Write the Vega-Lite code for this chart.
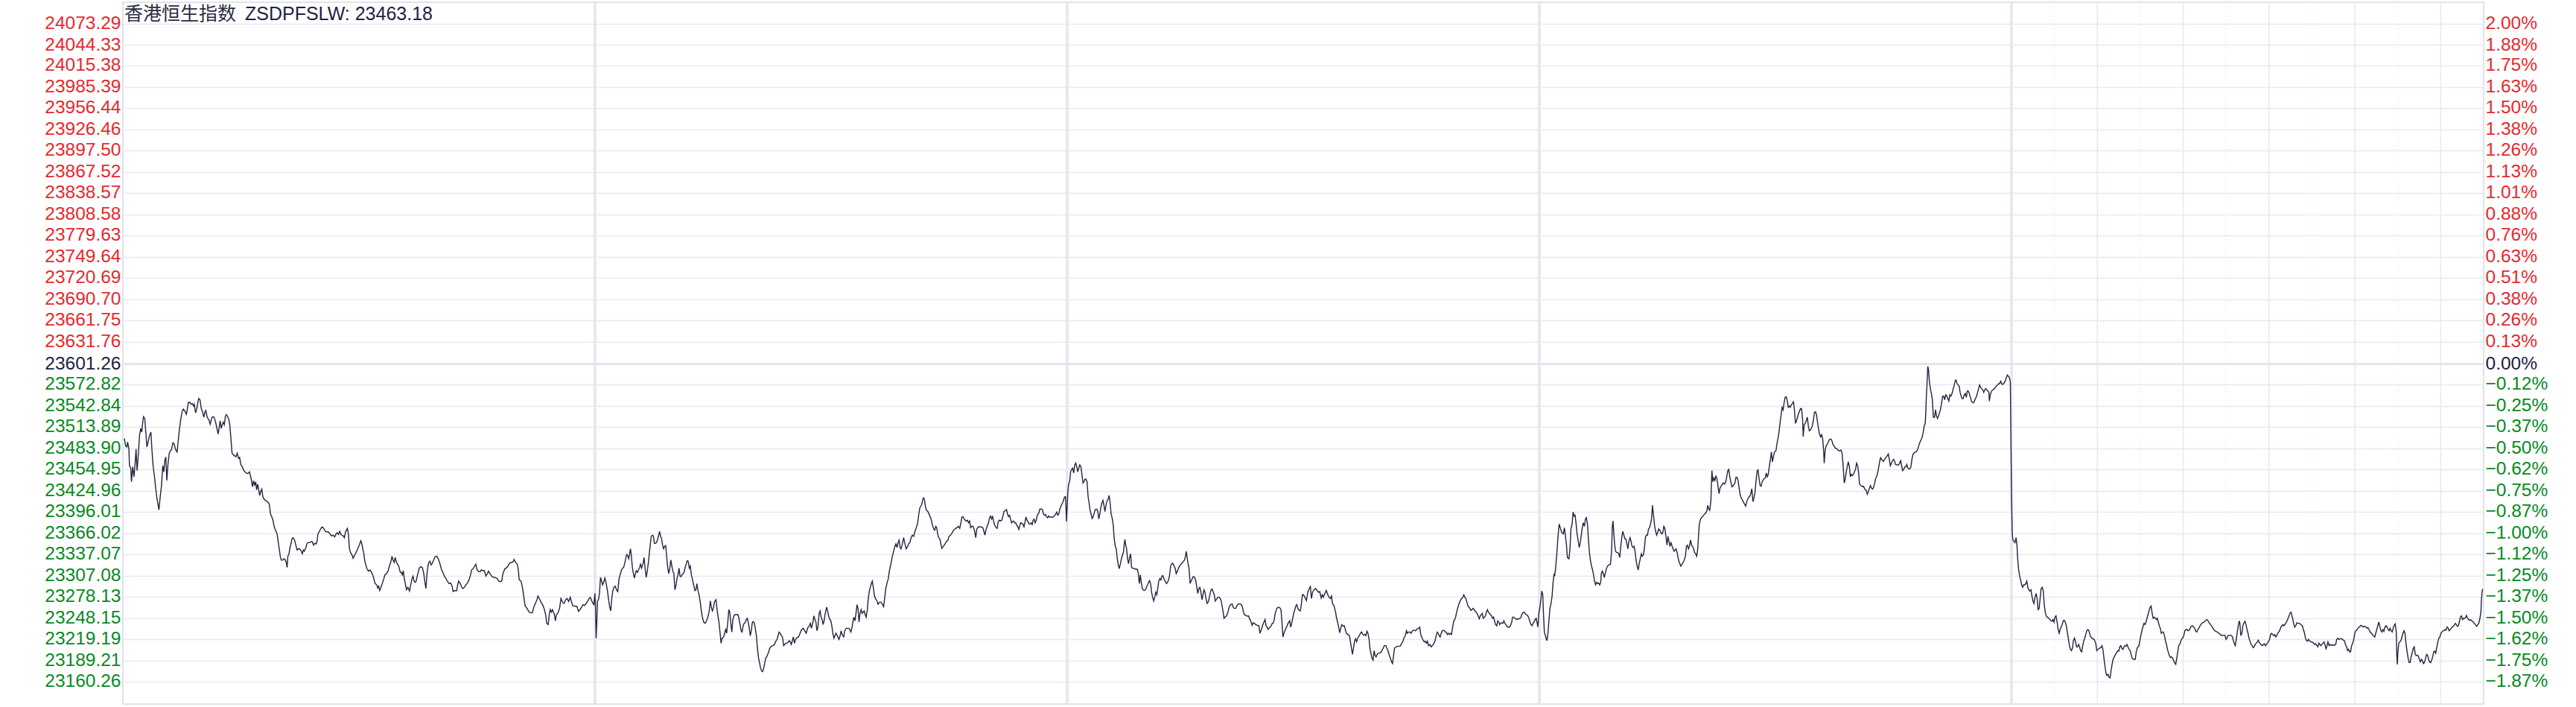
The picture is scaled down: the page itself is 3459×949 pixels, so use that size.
{
"$schema":"https://vega.github.io/schema/vega-lite/v6.json",
"width":3170,"height":942,
"autosize":{"type":"none"},
"padding":{"left":165,"top":3,"right":124,"bottom":4},
"background":"white",
"config":{"view":{"stroke":"#e2e2ee","strokeWidth":2}},
"datasets":{"idx":[
{"t":1.0,"v":23497.9},{"t":1.9,"v":23487.6},{"t":2.8,"v":23485.9},{"t":3.3,"v":23492.8},{"t":4.2,"v":23484.1},{"t":4.6,"v":23460.0},{"t":5.5,"v":23456.6},{"t":6.0,"v":23437.6},{"t":6.9,"v":23458.3},{"t":7.8,"v":23444.5},{"t":8.5,"v":23461.7},{"t":9.2,"v":23483.1},{"t":9.9,"v":23453.1},{"t":10.8,"v":23475.5},{"t":11.7,"v":23503.1},{"t":12.5,"v":23511.7},{"t":13.2,"v":23506.6},{"t":13.9,"v":23520.3},{"t":14.4,"v":23527.9},{"t":15.3,"v":23525.5},{"t":16.0,"v":23506.6},{"t":16.8,"v":23485.9},{"t":17.5,"v":23492.1},{"t":18.6,"v":23501.4},{"t":19.6,"v":23506.6},{"t":20.3,"v":23482.4},{"t":21.1,"v":23460.0},{"t":22.1,"v":23444.5},{"t":23.0,"v":23427.3},{"t":23.9,"v":23413.5},{"t":25.2,"v":23398.6},{"t":26.1,"v":23416.9},{"t":27.0,"v":23432.4},{"t":27.9,"v":23460.0},{"t":28.6,"v":23451.4},{"t":29.3,"v":23466.9},{"t":30.0,"v":23472.1},{"t":30.7,"v":23439.3},{"t":31.5,"v":23461.7},{"t":32.4,"v":23477.2},{"t":33.3,"v":23480.7},{"t":34.0,"v":23482.4},{"t":35.0,"v":23491.7},{"t":35.9,"v":23490.0},{"t":36.8,"v":23482.4},{"t":37.9,"v":23479.0},{"t":38.6,"v":23492.8},{"t":39.5,"v":23510.0},{"t":40.4,"v":23523.8},{"t":41.3,"v":23534.1},{"t":42.2,"v":23538.6},{"t":43.3,"v":23535.9},{"t":44.4,"v":23531.4},{"t":45.1,"v":23539.3},{"t":45.8,"v":23547.9},{"t":46.9,"v":23547.9},{"t":47.6,"v":23545.2},{"t":48.5,"v":23546.2},{"t":49.4,"v":23542.8},{"t":49.9,"v":23545.2},{"t":50.8,"v":23533.4},{"t":51.5,"v":23537.6},{"t":52.3,"v":23546.2},{"t":53.0,"v":23553.1},{"t":53.9,"v":23551.4},{"t":54.8,"v":23539.3},{"t":55.5,"v":23535.9},{"t":56.6,"v":23527.2},{"t":57.3,"v":23534.1},{"t":58.0,"v":23536.5},{"t":58.7,"v":23529.0},{"t":59.4,"v":23525.5},{"t":60.1,"v":23523.8},{"t":61.0,"v":23517.6},{"t":61.6,"v":23522.1},{"t":62.3,"v":23527.2},{"t":63.4,"v":23527.9},{"t":64.1,"v":23525.5},{"t":65.2,"v":23516.9},{"t":65.9,"v":23510.0},{"t":66.6,"v":23503.8},{"t":67.3,"v":23513.4},{"t":68.0,"v":23522.1},{"t":68.7,"v":23511.7},{"t":69.5,"v":23516.9},{"t":70.2,"v":23520.3},{"t":70.9,"v":23516.9},{"t":71.6,"v":23527.9},{"t":72.3,"v":23530.7},{"t":73.0,"v":23529.0},{"t":74.1,"v":23523.8},{"t":74.8,"v":23515.2},{"t":75.5,"v":23497.9},{"t":76.3,"v":23477.2},{"t":77.3,"v":23474.8},{"t":78.1,"v":23473.8},{"t":79.0,"v":23472.1},{"t":79.9,"v":23477.2},{"t":80.8,"v":23470.4},{"t":81.6,"v":23471.4},{"t":82.4,"v":23461.7},{"t":83.4,"v":23458.3},{"t":84.3,"v":23454.2},{"t":85.2,"v":23451.4},{"t":86.3,"v":23449.7},{"t":87.4,"v":23449.0},{"t":88.5,"v":23451.4},{"t":89.2,"v":23446.2},{"t":89.9,"v":23439.3},{"t":90.6,"v":23430.7},{"t":91.3,"v":23439.3},{"t":92.0,"v":23432.4},{"t":92.8,"v":23437.6},{"t":93.5,"v":23426.2},{"t":94.2,"v":23434.2},{"t":94.9,"v":23427.3},{"t":95.6,"v":23418.6},{"t":96.3,"v":23423.8},{"t":97.1,"v":23427.3},{"t":97.8,"v":23416.9},{"t":98.7,"v":23413.5},{"t":99.6,"v":23411.8},{"t":101.0,"v":23410.0},{"t":102.3,"v":23406.6},{"t":103.2,"v":23392.8},{"t":104.0,"v":23389.3},{"t":104.9,"v":23384.2},{"t":105.7,"v":23375.6},{"t":106.7,"v":23370.4},{"t":107.8,"v":23365.2},{"t":108.5,"v":23354.9},{"t":109.3,"v":23344.5},{"t":110.0,"v":23334.2},{"t":110.7,"v":23329.0},{"t":111.6,"v":23328.7},{"t":112.5,"v":23330.7},{"t":113.6,"v":23329.0},{"t":114.3,"v":23324.5},{"t":114.8,"v":23318.7},{"t":115.3,"v":23334.2},{"t":116.1,"v":23337.6},{"t":116.8,"v":23346.3},{"t":117.5,"v":23351.4},{"t":118.2,"v":23358.3},{"t":118.9,"v":23360.0},{"t":120.0,"v":23356.6},{"t":121.1,"v":23348.0},{"t":121.8,"v":23342.8},{"t":122.5,"v":23344.5},{"t":123.6,"v":23344.5},{"t":124.7,"v":23341.1},{"t":125.4,"v":23337.6},{"t":126.1,"v":23342.8},{"t":126.8,"v":23341.1},{"t":127.9,"v":23346.3},{"t":128.6,"v":23351.4},{"t":129.3,"v":23353.1},{"t":130.4,"v":23353.1},{"t":131.5,"v":23354.2},{"t":132.2,"v":23354.9},{"t":133.3,"v":23349.7},{"t":134.0,"v":23352.1},{"t":135.1,"v":23351.4},{"t":135.8,"v":23355.6},{"t":136.3,"v":23365.2},{"t":137.2,"v":23368.0},{"t":138.3,"v":23372.8},{"t":139.4,"v":23374.9},{"t":140.4,"v":23372.8},{"t":141.5,"v":23368.7},{"t":142.6,"v":23368.0},{"t":143.7,"v":23368.0},{"t":144.7,"v":23365.2},{"t":145.8,"v":23362.5},{"t":146.9,"v":23363.5},{"t":148.0,"v":23361.1},{"t":149.0,"v":23365.2},{"t":149.8,"v":23366.9},{"t":150.7,"v":23364.5},{"t":151.6,"v":23368.7},{"t":152.3,"v":23364.5},{"t":153.3,"v":23363.1},{"t":154.1,"v":23362.5},{"t":154.8,"v":23360.0},{"t":155.5,"v":23366.9},{"t":156.2,"v":23370.4},{"t":156.9,"v":23372.8},{"t":157.6,"v":23365.2},{"t":158.4,"v":23344.5},{"t":159.1,"v":23339.4},{"t":160.2,"v":23335.9},{"t":160.9,"v":23331.4},{"t":162.0,"v":23335.9},{"t":163.0,"v":23339.4},{"t":164.1,"v":23344.5},{"t":165.2,"v":23349.7},{"t":166.3,"v":23355.6},{"t":167.0,"v":23351.4},{"t":167.7,"v":23344.5},{"t":168.4,"v":23337.6},{"t":169.1,"v":23327.3},{"t":169.8,"v":23322.1},{"t":170.6,"v":23317.0},{"t":171.6,"v":23313.5},{"t":172.7,"v":23315.2},{"t":173.8,"v":23311.8},{"t":174.9,"v":23306.6},{"t":175.6,"v":23301.4},{"t":176.3,"v":23296.3},{"t":177.4,"v":23294.5},{"t":178.1,"v":23290.1},{"t":178.8,"v":23292.8},{"t":179.5,"v":23286.6},{"t":180.2,"v":23290.1},{"t":181.3,"v":23296.3},{"t":182.4,"v":23303.2},{"t":183.1,"v":23308.3},{"t":184.2,"v":23310.1},{"t":185.3,"v":23313.5},{"t":186.3,"v":23320.4},{"t":187.4,"v":23327.3},{"t":188.1,"v":23334.2},{"t":188.8,"v":23329.0},{"t":189.6,"v":23325.6},{"t":190.3,"v":23332.5},{"t":191.0,"v":23327.3},{"t":191.7,"v":23323.8},{"t":192.8,"v":23320.4},{"t":193.9,"v":23311.8},{"t":194.6,"v":23311.8},{"t":195.3,"v":23308.3},{"t":196.0,"v":23314.2},{"t":196.7,"v":23303.2},{"t":197.4,"v":23296.3},{"t":198.2,"v":23287.7},{"t":199.2,"v":23291.1},{"t":200.3,"v":23285.9},{"t":201.0,"v":23292.8},{"t":202.1,"v":23303.2},{"t":202.8,"v":23306.6},{"t":203.5,"v":23299.7},{"t":204.3,"v":23298.0},{"t":205.0,"v":23299.7},{"t":205.7,"v":23306.6},{"t":206.4,"v":23311.8},{"t":207.1,"v":23317.6},{"t":208.2,"v":23319.7},{"t":209.3,"v":23318.7},{"t":210.3,"v":23310.1},{"t":211.1,"v":23298.0},{"t":211.8,"v":23289.4},{"t":212.5,"v":23308.3},{"t":213.2,"v":23320.4},{"t":213.9,"v":23325.6},{"t":214.7,"v":23327.3},{"t":215.4,"v":23322.1},{"t":216.1,"v":23323.8},{"t":217.2,"v":23329.0},{"t":218.2,"v":23333.5},{"t":219.3,"v":23334.2},{"t":220.4,"v":23330.7},{"t":221.5,"v":23324.5},{"t":222.5,"v":23317.0},{"t":223.6,"v":23311.8},{"t":224.7,"v":23306.6},{"t":225.8,"v":23303.2},{"t":226.8,"v":23299.7},{"t":227.9,"v":23296.3},{"t":229.0,"v":23297.3},{"t":230.1,"v":23292.8},{"t":230.8,"v":23285.2},{"t":231.9,"v":23286.6},{"t":233.3,"v":23286.6},{"t":234.0,"v":23294.5},{"t":234.7,"v":23299.7},{"t":235.8,"v":23296.3},{"t":236.9,"v":23291.1},{"t":237.6,"v":23289.4},{"t":238.7,"v":23291.1},{"t":239.7,"v":23294.5},{"t":240.8,"v":23297.0},{"t":241.9,"v":23301.4},{"t":243.0,"v":23308.3},{"t":243.7,"v":23315.2},{"t":244.8,"v":23317.0},{"t":245.8,"v":23320.4},{"t":246.6,"v":23323.2},{"t":247.6,"v":23315.2},{"t":248.7,"v":23312.8},{"t":249.8,"v":23312.8},{"t":250.5,"v":23315.2},{"t":251.6,"v":23314.2},{"t":252.7,"v":23314.2},{"t":253.7,"v":23306.6},{"t":254.8,"v":23310.1},{"t":255.5,"v":23313.5},{"t":256.6,"v":23310.1},{"t":257.7,"v":23306.6},{"t":259.1,"v":23304.9},{"t":260.5,"v":23304.5},{"t":261.6,"v":23303.2},{"t":262.7,"v":23299.7},{"t":263.8,"v":23299.0},{"t":264.8,"v":23299.7},{"t":265.6,"v":23310.1},{"t":266.3,"v":23313.5},{"t":267.0,"v":23317.0},{"t":268.1,"v":23318.0},{"t":269.1,"v":23320.4},{"t":270.2,"v":23324.5},{"t":271.6,"v":23325.6},{"t":272.7,"v":23326.3},{"t":273.4,"v":23329.7},{"t":274.5,"v":23325.6},{"t":275.6,"v":23323.2},{"t":276.3,"v":23317.0},{"t":277.0,"v":23301.4},
{"t":278.3,"v":23299.7},{"t":279.4,"v":23289.4},{"t":280.4,"v":23275.6},{"t":281.1,"v":23265.2},{"t":281.9,"v":23263.5},{"t":283.0,"v":23260.1},{"t":284.0,"v":23256.6},{"t":285.1,"v":23255.6},{"t":286.2,"v":23255.6},{"t":287.2,"v":23263.5},{"t":288.3,"v":23268.7},{"t":289.4,"v":23273.9},{"t":290.1,"v":23279.0},{"t":291.2,"v":23274.9},{"t":292.3,"v":23270.4},{"t":293.3,"v":23267.0},{"t":294.4,"v":23261.8},{"t":295.5,"v":23253.2},{"t":296.2,"v":23241.1},{"t":297.3,"v":23239.4},{"t":298.0,"v":23253.2},{"t":298.7,"v":23260.1},{"t":299.4,"v":23256.6},{"t":300.2,"v":23260.1},{"t":300.9,"v":23256.6},{"t":301.6,"v":23253.2},{"t":302.3,"v":23244.6},{"t":303.0,"v":23253.2},{"t":304.1,"v":23255.6},{"t":305.2,"v":23261.8},{"t":306.2,"v":23275.6},{"t":307.3,"v":23270.4},{"t":308.4,"v":23268.7},{"t":309.5,"v":23273.9},{"t":310.5,"v":23275.6},{"t":311.6,"v":23271.4},{"t":312.7,"v":23277.3},{"t":313.4,"v":23272.1},{"t":314.5,"v":23265.2},{"t":315.6,"v":23265.2},{"t":316.6,"v":23264.6},{"t":317.4,"v":23264.6},{"t":318.4,"v":23257.7},{"t":319.5,"v":23260.1},{"t":320.6,"v":23263.5},{"t":321.6,"v":23267.0},{"t":322.7,"v":23265.9},{"t":323.8,"v":23268.7},{"t":324.9,"v":23272.1},{"t":325.9,"v":23275.6},{"t":326.7,"v":23277.3},{"t":327.4,"v":23273.9},{"t":328.5,"v":23268.7},{"t":329.2,"v":23267.0},{"t":329.9,"v":23282.5},{"t":330.3,"v":23265.2},{"t":330.8,"v":23220.4},{"t":331.2,"v":23241.1},{"t":331.7,"v":23272.1},{"t":332.4,"v":23273.9},{"t":333.1,"v":23282.5},{"t":333.8,"v":23304.9},{"t":334.6,"v":23299.7},{"t":335.3,"v":23294.5},{"t":336.0,"v":23298.0},{"t":336.9,"v":23303.9},{"t":337.8,"v":23296.3},{"t":338.7,"v":23285.9},{"t":339.6,"v":23272.1},{"t":340.3,"v":23263.5},{"t":341.0,"v":23258.3},{"t":341.7,"v":23275.6},{"t":342.4,"v":23285.9},{"t":343.2,"v":23291.1},{"t":344.1,"v":23292.8},{"t":345.0,"v":23287.7},{"t":345.9,"v":23285.2},{"t":346.8,"v":23303.2},{"t":347.5,"v":23308.3},{"t":348.5,"v":23315.2},{"t":349.3,"v":23317.6},{"t":350.0,"v":23318.7},{"t":350.7,"v":23323.8},{"t":351.4,"v":23330.7},{"t":352.1,"v":23336.6},{"t":352.8,"v":23334.9},{"t":353.6,"v":23330.7},{"t":354.3,"v":23339.4},{"t":354.8,"v":23344.5},{"t":355.4,"v":23334.2},{"t":356.1,"v":23318.7},{"t":356.8,"v":23310.1},{"t":357.5,"v":23303.9},{"t":358.2,"v":23310.1},{"t":358.9,"v":23314.2},{"t":359.7,"v":23311.8},{"t":360.4,"v":23315.2},{"t":361.1,"v":23318.7},{"t":361.8,"v":23323.2},{"t":362.5,"v":23317.6},{"t":363.6,"v":23324.5},{"t":364.3,"v":23332.5},{"t":365.0,"v":23317.0},{"t":365.8,"v":23304.9},{"t":366.5,"v":23313.5},{"t":367.2,"v":23323.8},{"t":367.9,"v":23337.6},{"t":368.6,"v":23349.7},{"t":369.3,"v":23361.8},{"t":370.1,"v":23363.5},{"t":370.8,"v":23362.5},{"t":371.5,"v":23352.1},{"t":372.2,"v":23352.1},{"t":372.9,"v":23353.1},{"t":373.6,"v":23356.6},{"t":374.4,"v":23362.5},{"t":375.1,"v":23368.7},{"t":375.8,"v":23361.8},{"t":376.5,"v":23359.0},{"t":377.2,"v":23349.7},{"t":377.9,"v":23344.5},{"t":378.7,"v":23348.0},{"t":379.4,"v":23349.0},{"t":380.1,"v":23332.5},{"t":380.8,"v":23318.7},{"t":381.5,"v":23310.1},{"t":382.2,"v":23317.0},{"t":383.0,"v":23329.0},{"t":383.7,"v":23320.4},{"t":384.4,"v":23313.5},{"t":385.1,"v":23310.1},{"t":385.8,"v":23287.7},{"t":386.5,"v":23292.8},{"t":387.3,"v":23303.2},{"t":388.0,"v":23308.3},{"t":388.7,"v":23317.6},{"t":389.4,"v":23306.6},{"t":390.1,"v":23305.9},{"t":390.8,"v":23308.3},{"t":391.6,"v":23310.1},{"t":392.3,"v":23312.5},{"t":393.0,"v":23318.7},{"t":393.7,"v":23323.2},{"t":394.4,"v":23328.0},{"t":395.1,"v":23327.3},{"t":395.9,"v":23317.6},{"t":396.6,"v":23320.4},{"t":397.3,"v":23308.3},{"t":398.0,"v":23303.2},{"t":398.7,"v":23296.3},{"t":399.8,"v":23286.6},{"t":400.5,"v":23287.7},{"t":401.2,"v":23296.3},{"t":402.0,"v":23285.9},{"t":402.7,"v":23280.8},{"t":403.4,"v":23272.1},{"t":404.1,"v":23261.8},{"t":404.8,"v":23251.5},{"t":405.9,"v":23242.8},{"t":407.0,"v":23241.1},{"t":408.0,"v":23244.6},{"t":409.1,"v":23251.5},{"t":409.8,"v":23258.3},{"t":410.6,"v":23272.1},{"t":411.3,"v":23263.5},{"t":412.0,"v":23258.3},{"t":412.7,"v":23261.8},{"t":413.4,"v":23270.4},{"t":414.5,"v":23273.9},{"t":415.2,"v":23261.8},{"t":415.9,"v":23251.5},{"t":416.7,"v":23241.1},{"t":417.4,"v":23227.3},{"t":418.1,"v":23213.5},{"t":418.8,"v":23220.4},{"t":419.9,"v":23222.2},{"t":420.6,"v":23227.3},{"t":421.3,"v":23232.5},{"t":422.0,"v":23227.3},{"t":422.8,"v":23242.8},{"t":423.5,"v":23260.1},{"t":424.2,"v":23256.6},{"t":424.9,"v":23241.1},{"t":425.6,"v":23229.0},{"t":426.3,"v":23246.3},{"t":427.1,"v":23251.5},{"t":427.8,"v":23253.2},{"t":428.9,"v":23253.2},{"t":429.9,"v":23253.2},{"t":430.6,"v":23248.0},{"t":431.4,"v":23239.4},{"t":432.1,"v":23230.8},{"t":432.8,"v":23229.0},{"t":433.5,"v":23237.7},{"t":434.2,"v":23241.1},{"t":434.9,"v":23241.8},{"t":435.7,"v":23246.3},{"t":436.4,"v":23248.0},{"t":437.1,"v":23242.8},{"t":437.8,"v":23234.2},{"t":438.5,"v":23223.9},{"t":439.2,"v":23230.8},{"t":440.0,"v":23242.8},{"t":440.7,"v":23243.5},{"t":441.4,"v":23241.1},{"t":442.1,"v":23232.5},{"t":442.8,"v":23223.9},{"t":443.5,"v":23206.6},{"t":444.3,"v":23192.8},{"t":445.0,"v":23186.0},{"t":445.7,"v":23179.1},{"t":446.4,"v":23174.9},{"t":447.1,"v":23173.9},{"t":447.9,"v":23179.1},{"t":448.6,"v":23186.0},{"t":449.3,"v":23192.8},{"t":450.0,"v":23194.6},{"t":450.7,"v":23198.0},{"t":451.4,"v":23201.5},{"t":452.1,"v":23206.6},{"t":453.2,"v":23209.4},{"t":454.3,"v":23210.1},{"t":455.4,"v":23211.8},{"t":456.1,"v":23215.3},{"t":457.2,"v":23218.7},{"t":457.9,"v":23223.9},{"t":458.6,"v":23229.0},{"t":459.3,"v":23227.3},{"t":460.4,"v":23223.9},{"t":461.1,"v":23221.1},{"t":461.8,"v":23210.1},{"t":462.5,"v":23211.8},{"t":463.6,"v":23213.5},{"t":464.7,"v":23214.2},{"t":465.8,"v":23217.0},{"t":466.5,"v":23215.3},{"t":467.2,"v":23211.8},{"t":467.9,"v":23217.0},{"t":468.6,"v":23222.2},{"t":469.4,"v":23213.5},{"t":470.1,"v":23218.7},{"t":471.1,"v":23221.1},{"t":472.2,"v":23222.2},{"t":473.3,"v":23227.3},{"t":474.4,"v":23232.5},{"t":475.5,"v":23234.2},{"t":476.5,"v":23230.8},{"t":477.6,"v":23227.3},{"t":478.7,"v":23234.9},{"t":479.8,"v":23237.7},{"t":480.5,"v":23241.1},{"t":481.2,"v":23234.2},{"t":482.3,"v":23242.8},{"t":483.0,"v":23251.5},{"t":483.7,"v":23246.3},{"t":484.4,"v":23242.8},{"t":485.1,"v":23230.8},{"t":485.8,"v":23235.9},{"t":486.6,"v":23254.9},{"t":487.3,"v":23258.3},{"t":488.0,"v":23249.7},{"t":488.7,"v":23246.3},{"t":489.4,"v":23239.4},{"t":490.1,"v":23244.6},{"t":490.9,"v":23254.9},{"t":491.9,"v":23263.5},{"t":492.7,"v":23256.6},{"t":493.7,"v":23248.0},{"t":494.8,"v":23244.6},{"t":495.5,"v":23237.7},{"t":496.2,"v":23227.3},{"t":497.0,"v":23220.4},{"t":497.7,"v":23223.9},{"t":498.4,"v":23227.3},{"t":499.5,"v":23223.2},{"t":500.5,"v":23218.7},{"t":501.3,"v":23223.9},{"t":502.0,"v":23230.8},{"t":502.7,"v":23225.6},{"t":503.8,"v":23222.2},{"t":504.5,"v":23230.8},{"t":505.6,"v":23234.2},{"t":506.6,"v":23234.2},{"t":507.7,"v":23234.2},{"t":508.8,"v":23229.0},{"t":509.5,"v":23234.2},{"t":510.2,"v":23242.8},{"t":510.9,"v":23249.7},{"t":511.7,"v":23244.6},{"t":512.4,"v":23254.9},{"t":513.1,"v":23267.0},{"t":513.8,"v":23261.8},{"t":514.5,"v":23242.8},{"t":515.2,"v":23254.9},{"t":516.0,"v":23260.1},{"t":516.7,"v":23254.9},{"t":517.4,"v":23256.6},{"t":518.1,"v":23258.3},{"t":518.8,"v":23253.2},{"t":519.5,"v":23249.7},{"t":520.3,"v":23260.1},{"t":521.0,"v":23275.6},{"t":521.7,"v":23285.9},{"t":522.4,"v":23291.1},{"t":523.1,"v":23296.3},{"t":523.8,"v":23299.7},{"t":524.6,"v":23289.4},{"t":525.3,"v":23279.0},{"t":526.0,"v":23275.6},{"t":527.1,"v":23272.1},{"t":527.8,"v":23267.7},{"t":528.9,"v":23270.4},{"t":529.9,"v":23270.4},{"t":531.0,"v":23267.0},{"t":531.7,"v":23264.2},{"t":532.4,"v":23275.6},{"t":533.2,"v":23289.4},{"t":534.2,"v":23298.0},{"t":535.0,"v":23303.2},{"t":535.7,"v":23313.5},{"t":536.8,"v":23323.8},{"t":537.8,"v":23334.2},{"t":538.9,"v":23342.8},{"t":539.6,"v":23348.0},{"t":540.3,"v":23351.4},{"t":541.1,"v":23346.3},{"t":541.8,"v":23353.1},{"t":542.5,"v":23356.6},{"t":543.2,"v":23346.3},{"t":543.9,"v":23344.5},{"t":544.6,"v":23349.7},{"t":545.7,"v":23360.0},{"t":546.4,"v":23353.1},{"t":547.5,"v":23344.5},{"t":548.6,"v":23348.0},
{"t":549.1,"v":23351.4},{"t":550.0,"v":23353.1},{"t":550.9,"v":23360.0},{"t":551.8,"v":23363.5},{"t":552.7,"v":23361.8},{"t":553.6,"v":23368.7},{"t":554.5,"v":23373.8},{"t":555.4,"v":23379.0},{"t":556.3,"v":23392.8},{"t":557.0,"v":23401.4},{"t":558.1,"v":23404.9},{"t":559.0,"v":23411.8},{"t":559.5,"v":23415.2},{"t":560.2,"v":23413.5},{"t":560.9,"v":23403.1},{"t":561.6,"v":23398.0},{"t":562.7,"v":23396.2},{"t":563.8,"v":23391.1},{"t":564.9,"v":23385.9},{"t":565.6,"v":23379.0},{"t":566.7,"v":23372.1},{"t":567.4,"v":23370.4},{"t":568.1,"v":23375.6},{"t":568.8,"v":23373.8},{"t":569.5,"v":23365.2},{"t":570.2,"v":23360.0},{"t":571.0,"v":23358.3},{"t":571.7,"v":23351.4},{"t":572.4,"v":23345.2},{"t":573.5,"v":23348.0},{"t":574.6,"v":23351.4},{"t":575.6,"v":23354.9},{"t":576.7,"v":23356.6},{"t":577.4,"v":23361.8},{"t":578.5,"v":23363.5},{"t":579.6,"v":23366.9},{"t":580.6,"v":23370.4},{"t":581.7,"v":23372.1},{"t":582.8,"v":23373.8},{"t":583.9,"v":23375.6},{"t":584.9,"v":23372.8},{"t":585.7,"v":23380.7},{"t":586.4,"v":23388.7},{"t":587.1,"v":23389.3},{"t":588.2,"v":23385.2},{"t":589.3,"v":23383.1},{"t":590.3,"v":23384.2},{"t":591.0,"v":23380.7},{"t":591.8,"v":23383.1},{"t":592.5,"v":23373.8},{"t":593.2,"v":23375.6},{"t":593.9,"v":23376.2},{"t":594.6,"v":23373.8},{"t":595.3,"v":23368.7},{"t":596.1,"v":23360.0},{"t":596.8,"v":23372.1},{"t":597.9,"v":23374.9},{"t":598.9,"v":23374.9},{"t":600.0,"v":23374.9},{"t":601.1,"v":23373.8},{"t":601.8,"v":23368.7},{"t":602.5,"v":23363.5},{"t":603.2,"v":23370.4},{"t":603.9,"v":23374.9},{"t":605.0,"v":23380.7},{"t":605.7,"v":23387.6},{"t":606.5,"v":23390.0},{"t":607.2,"v":23385.9},{"t":607.9,"v":23389.3},{"t":608.6,"v":23382.5},{"t":609.3,"v":23377.3},{"t":610.4,"v":23373.8},{"t":611.1,"v":23372.8},{"t":611.8,"v":23382.5},{"t":612.6,"v":23384.2},{"t":613.3,"v":23383.1},{"t":614.3,"v":23384.2},{"t":615.1,"v":23390.0},{"t":615.8,"v":23396.2},{"t":616.9,"v":23398.0},{"t":617.6,"v":23399.0},{"t":618.3,"v":23392.8},{"t":619.0,"v":23389.3},{"t":619.7,"v":23391.1},{"t":620.4,"v":23385.9},{"t":621.2,"v":23380.7},{"t":621.9,"v":23382.5},{"t":622.6,"v":23383.1},{"t":623.3,"v":23380.7},{"t":624.0,"v":23380.7},{"t":624.7,"v":23377.3},{"t":625.5,"v":23374.9},{"t":626.2,"v":23371.4},{"t":626.9,"v":23377.3},{"t":627.6,"v":23380.7},{"t":628.3,"v":23379.7},{"t":629.0,"v":23379.0},{"t":629.8,"v":23374.9},{"t":630.5,"v":23381.8},{"t":631.2,"v":23388.7},{"t":631.9,"v":23384.2},{"t":632.6,"v":23382.5},{"t":633.3,"v":23379.0},{"t":634.1,"v":23379.0},{"t":634.8,"v":23380.7},{"t":635.5,"v":23378.3},{"t":636.2,"v":23384.2},{"t":636.9,"v":23385.9},{"t":637.6,"v":23380.7},{"t":638.4,"v":23384.2},{"t":639.1,"v":23391.1},{"t":640.2,"v":23394.5},{"t":640.9,"v":23399.7},{"t":642.0,"v":23399.7},{"t":642.7,"v":23399.0},{"t":643.4,"v":23392.8},{"t":644.1,"v":23391.1},{"t":644.8,"v":23392.1},{"t":645.5,"v":23389.3},{"t":646.3,"v":23387.6},{"t":647.0,"v":23390.0},{"t":647.7,"v":23388.7},{"t":648.8,"v":23388.7},{"t":649.8,"v":23388.3},{"t":650.9,"v":23390.0},{"t":652.0,"v":23392.8},{"t":652.7,"v":23395.6},{"t":653.4,"v":23391.1},{"t":654.1,"v":23392.8},{"t":654.9,"v":23399.7},{"t":655.9,"v":23404.9},{"t":657.0,"v":23409.3},{"t":658.1,"v":23416.2},{"t":658.8,"v":23416.9},{"t":659.2,"v":23399.7},{"t":659.5,"v":23382.5},{"t":659.9,"v":23399.7},{"t":660.4,"v":23422.1},{"t":661.0,"v":23434.2},{"t":661.7,"v":23437.6},{"t":662.4,"v":23451.4},{"t":663.1,"v":23454.8},{"t":663.8,"v":23456.6},{"t":664.5,"v":23449.7},{"t":665.3,"v":23461.0},{"t":666.0,"v":23463.5},{"t":666.7,"v":23458.3},{"t":667.4,"v":23451.4},{"t":668.1,"v":23456.6},{"t":668.8,"v":23461.0},{"t":669.6,"v":23458.3},{"t":670.3,"v":23447.9},{"t":671.0,"v":23435.9},{"t":671.7,"v":23437.6},{"t":672.4,"v":23441.1},{"t":673.1,"v":23441.1},{"t":673.9,"v":23437.6},{"t":674.6,"v":23416.9},{"t":675.3,"v":23408.3},{"t":676.0,"v":23398.0},{"t":676.7,"v":23392.8},{"t":677.4,"v":23386.6},{"t":678.2,"v":23389.3},{"t":678.9,"v":23394.5},{"t":679.6,"v":23399.0},{"t":680.7,"v":23399.7},{"t":681.4,"v":23396.2},{"t":682.1,"v":23385.9},{"t":682.8,"v":23392.8},{"t":683.5,"v":23401.4},{"t":684.3,"v":23408.3},{"t":685.0,"v":23411.8},{"t":685.7,"v":23404.9},{"t":686.4,"v":23396.2},{"t":687.1,"v":23404.9},{"t":687.8,"v":23410.7},{"t":688.6,"v":23413.5},{"t":689.3,"v":23418.6},{"t":690.0,"v":23408.3},{"t":690.7,"v":23392.8},{"t":691.4,"v":23387.6},{"t":692.1,"v":23379.0},{"t":692.9,"v":23358.3},{"t":693.6,"v":23348.0},{"t":694.3,"v":23344.5},{"t":695.0,"v":23330.7},{"t":695.7,"v":23322.1},{"t":696.4,"v":23317.0},{"t":697.2,"v":23323.8},{"t":697.9,"v":23330.7},{"t":698.6,"v":23335.9},{"t":699.3,"v":23339.4},{"t":700.0,"v":23353.1},{"t":700.4,"v":23357.6},{"t":700.7,"v":23351.4},{"t":701.5,"v":23344.5},{"t":702.2,"v":23330.7},{"t":702.9,"v":23323.8},{"t":703.6,"v":23332.5},{"t":704.3,"v":23337.6},{"t":705.0,"v":23318.7},{"t":705.8,"v":23317.6},{"t":706.8,"v":23317.0},{"t":707.9,"v":23316.3},{"t":709.0,"v":23316.3},{"t":709.7,"v":23310.1},{"t":710.4,"v":23296.3},{"t":711.1,"v":23308.3},{"t":711.9,"v":23296.3},{"t":712.6,"v":23288.7},{"t":713.7,"v":23286.6},{"t":714.7,"v":23287.7},{"t":715.4,"v":23291.1},{"t":716.2,"v":23294.5},{"t":716.9,"v":23298.0},{"t":717.6,"v":23300.4},{"t":718.3,"v":23296.3},{"t":719.0,"v":23284.2},{"t":719.7,"v":23277.3},{"t":720.5,"v":23272.1},{"t":721.2,"v":23277.3},{"t":721.9,"v":23284.2},{"t":722.6,"v":23280.8},{"t":723.3,"v":23289.4},{"t":724.0,"v":23299.7},{"t":724.8,"v":23303.2},{"t":725.5,"v":23301.4},{"t":726.2,"v":23306.6},{"t":726.9,"v":23307.3},{"t":727.6,"v":23303.2},{"t":728.4,"v":23299.7},{"t":729.4,"v":23296.3},{"t":730.1,"v":23298.0},{"t":730.9,"v":23301.4},{"t":731.6,"v":23308.3},{"t":732.3,"v":23320.4},{"t":733.0,"v":23323.8},{"t":733.7,"v":23324.5},{"t":734.4,"v":23322.1},{"t":735.5,"v":23317.0},{"t":736.2,"v":23310.1},{"t":737.0,"v":23313.5},{"t":738.0,"v":23318.7},{"t":739.1,"v":23322.1},{"t":740.2,"v":23324.5},{"t":741.3,"v":23327.3},{"t":742.0,"v":23329.0},{"t":742.7,"v":23334.2},{"t":743.2,"v":23341.1},{"t":743.8,"v":23332.5},{"t":744.5,"v":23323.8},{"t":745.2,"v":23317.0},{"t":745.9,"v":23296.3},{"t":746.6,"v":23299.7},{"t":747.4,"v":23303.2},{"t":748.1,"v":23305.9},{"t":749.1,"v":23304.9},{"t":749.9,"v":23299.7},{"t":750.6,"v":23291.1},{"t":751.3,"v":23282.5},{"t":752.0,"v":23289.4},{"t":752.7,"v":23291.1},{"t":753.5,"v":23284.2},{"t":754.2,"v":23273.9},{"t":754.9,"v":23280.8},{"t":755.6,"v":23287.7},{"t":756.3,"v":23284.2},{"t":757.0,"v":23275.6},{"t":757.8,"v":23268.7},{"t":758.5,"v":23270.4},{"t":759.2,"v":23275.6},{"t":759.9,"v":23282.5},{"t":760.6,"v":23287.7},{"t":761.3,"v":23288.7},{"t":762.1,"v":23284.2},{"t":762.8,"v":23280.8},{"t":763.5,"v":23272.1},{"t":764.2,"v":23273.9},{"t":765.3,"v":23277.3},{"t":766.3,"v":23277.3},{"t":767.4,"v":23273.9},{"t":768.1,"v":23267.0},{"t":768.9,"v":23258.3},{"t":769.6,"v":23248.0},{"t":770.3,"v":23249.7},{"t":771.4,"v":23251.5},{"t":772.1,"v":23254.9},{"t":773.2,"v":23263.5},{"t":774.2,"v":23267.0},{"t":775.3,"v":23268.0},{"t":776.0,"v":23263.5},{"t":776.7,"v":23261.8},{"t":777.8,"v":23261.8},{"t":778.5,"v":23265.2},{"t":779.6,"v":23268.0},{"t":780.7,"v":23268.0},{"t":781.8,"v":23267.0},{"t":782.5,"v":23263.5},{"t":783.2,"v":23256.6},{"t":783.9,"v":23253.2},{"t":785.0,"v":23252.1},{"t":786.1,"v":23250.8},{"t":786.8,"v":23251.5},{"t":787.5,"v":23247.3},{"t":788.2,"v":23244.6},{"t":789.3,"v":23238.4},{"t":790.0,"v":23241.8},{"t":790.7,"v":23241.1},{"t":791.8,"v":23239.4},{"t":792.9,"v":23238.4},{"t":794.0,"v":23237.7},{"t":794.7,"v":23227.3},{"t":795.7,"v":23232.5},{"t":796.8,"v":23239.4},{"t":797.5,"v":23242.8},{"t":798.3,"v":23246.3},{"t":799.0,"v":23237.7},{"t":799.7,"v":23235.9},{"t":800.4,"v":23232.5},{"t":801.1,"v":23234.2},{"t":801.8,"v":23235.9},{"t":802.6,"v":23237.7},{"t":803.3,"v":23241.1},{"t":804.0,"v":23241.1},{"t":804.7,"v":23246.3},{"t":805.4,"v":23254.9},{"t":806.5,"v":23261.8},{"t":807.6,"v":23263.5},{"t":808.7,"v":23262.5},{"t":809.4,"v":23260.1},{"t":810.1,"v":23242.8},{"t":810.8,"v":23222.2},{"t":811.5,"v":23227.3},{"t":812.2,"v":23230.8},{"t":813.3,"v":23235.9},{"t":814.4,"v":23241.1},{"t":815.5,"v":23244.6},{"t":816.2,"v":23235.9},{"t":816.9,"v":23241.1},{"t":817.6,"v":23248.0},{"t":818.3,"v":23254.9},{"t":819.1,"v":23260.1},{"t":819.8,"v":23265.2},{"t":820.5,"v":23267.0},{"t":821.2,"v":23261.8},{"t":822.3,"v":23259.0},{"t":823.0,"v":23258.3},{"t":823.7,"v":23268.7},{"t":824.4,"v":23280.8},{"t":825.1,"v":23280.8},
{"t":826.1,"v":23277.3},{"t":827.2,"v":23272.8},{"t":828.2,"v":23284.2},{"t":829.3,"v":23290.1},{"t":830.0,"v":23292.1},{"t":830.7,"v":23275.6},{"t":831.5,"v":23284.2},{"t":832.5,"v":23287.7},{"t":833.6,"v":23289.4},{"t":834.7,"v":23286.6},{"t":835.8,"v":23284.2},{"t":836.5,"v":23285.2},{"t":837.5,"v":23276.3},{"t":838.3,"v":23280.8},{"t":839.0,"v":23277.3},{"t":840.1,"v":23282.5},{"t":841.1,"v":23286.6},{"t":841.8,"v":23282.5},{"t":842.9,"v":23277.3},{"t":844.0,"v":23275.6},{"t":844.7,"v":23279.0},{"t":845.4,"v":23268.7},{"t":846.5,"v":23265.2},{"t":847.6,"v":23256.6},{"t":848.3,"v":23248.0},{"t":849.0,"v":23242.8},{"t":849.7,"v":23235.9},{"t":850.5,"v":23228.0},{"t":851.2,"v":23234.2},{"t":851.9,"v":23239.4},{"t":853.0,"v":23237.0},{"t":853.7,"v":23237.7},{"t":854.4,"v":23232.5},{"t":855.1,"v":23227.3},{"t":856.2,"v":23225.6},{"t":857.3,"v":23223.9},{"t":858.0,"v":23215.3},{"t":858.7,"v":23206.6},{"t":859.4,"v":23198.0},{"t":860.1,"v":23206.6},{"t":860.9,"v":23217.0},{"t":861.6,"v":23219.7},{"t":862.3,"v":23215.3},{"t":863.0,"v":23220.4},{"t":864.1,"v":23223.9},{"t":865.2,"v":23228.0},{"t":865.9,"v":23229.0},{"t":866.6,"v":23225.6},{"t":867.3,"v":23224.6},{"t":868.0,"v":23225.6},{"t":868.7,"v":23223.9},{"t":869.5,"v":23230.1},{"t":870.2,"v":23227.3},{"t":870.9,"v":23220.4},{"t":871.6,"v":23206.6},{"t":872.3,"v":23199.7},{"t":873.0,"v":23192.8},{"t":873.8,"v":23190.1},{"t":874.5,"v":23203.2},{"t":875.2,"v":23196.3},{"t":875.9,"v":23194.6},{"t":877.0,"v":23199.1},{"t":878.1,"v":23199.7},{"t":879.1,"v":23200.4},{"t":879.9,"v":23203.2},{"t":880.9,"v":23206.6},{"t":881.6,"v":23210.1},{"t":882.7,"v":23210.1},{"t":883.4,"v":23206.6},{"t":884.2,"v":23203.2},{"t":885.2,"v":23196.3},{"t":885.9,"v":23192.8},{"t":886.7,"v":23187.7},{"t":887.4,"v":23185.3},{"t":888.1,"v":23196.3},{"t":888.8,"v":23206.6},{"t":889.9,"v":23208.4},{"t":891.3,"v":23209.4},{"t":892.8,"v":23209.4},{"t":893.8,"v":23213.5},{"t":894.5,"v":23215.3},{"t":895.3,"v":23220.4},{"t":896.3,"v":23223.9},{"t":897.1,"v":23230.8},{"t":897.8,"v":23227.3},{"t":898.5,"v":23229.0},{"t":899.6,"v":23229.0},{"t":900.3,"v":23227.3},{"t":901.4,"v":23230.8},{"t":902.4,"v":23231.5},{"t":903.5,"v":23230.8},{"t":904.6,"v":23233.5},{"t":905.7,"v":23234.2},{"t":906.4,"v":23235.9},{"t":907.1,"v":23225.6},{"t":907.8,"v":23222.2},{"t":908.9,"v":23217.0},{"t":909.6,"v":23215.3},{"t":910.3,"v":23216.3},{"t":911.0,"v":23213.5},{"t":911.8,"v":23216.3},{"t":912.5,"v":23210.1},{"t":913.6,"v":23211.8},{"t":914.3,"v":23208.4},{"t":915.3,"v":23210.1},{"t":916.4,"v":23213.5},{"t":917.1,"v":23217.0},{"t":917.9,"v":23223.9},{"t":918.6,"v":23229.0},{"t":919.3,"v":23227.3},{"t":920.0,"v":23223.9},{"t":920.7,"v":23222.2},{"t":921.4,"v":23227.3},{"t":922.2,"v":23230.8},{"t":922.9,"v":23231.5},{"t":923.6,"v":23230.8},{"t":924.3,"v":23229.0},{"t":925.0,"v":23229.0},{"t":925.7,"v":23225.6},{"t":926.5,"v":23227.3},{"t":927.2,"v":23225.6},{"t":927.9,"v":23227.3},{"t":928.6,"v":23225.6},{"t":929.3,"v":23234.2},{"t":930.0,"v":23242.8},{"t":930.8,"v":23246.3},{"t":931.5,"v":23249.7},{"t":932.2,"v":23256.6},{"t":932.9,"v":23261.8},{"t":933.6,"v":23267.0},{"t":934.3,"v":23270.4},{"t":935.1,"v":23273.9},{"t":935.8,"v":23275.6},{"t":936.5,"v":23277.3},{"t":937.2,"v":23280.8},{"t":937.9,"v":23277.3},{"t":938.6,"v":23275.6},{"t":939.4,"v":23270.4},{"t":940.1,"v":23265.2},{"t":940.8,"v":23263.5},{"t":941.5,"v":23261.8},{"t":942.2,"v":23259.0},{"t":942.9,"v":23260.1},{"t":943.7,"v":23261.8},{"t":944.4,"v":23260.1},{"t":945.1,"v":23258.3},{"t":945.8,"v":23256.6},{"t":946.5,"v":23254.9},{"t":947.2,"v":23251.5},{"t":948.0,"v":23247.3},{"t":948.7,"v":23251.5},{"t":949.4,"v":23253.2},{"t":950.1,"v":23254.9},{"t":950.8,"v":23248.0},{"t":951.6,"v":23249.7},{"t":952.3,"v":23251.5},{"t":953.0,"v":23256.6},{"t":953.7,"v":23260.1},{"t":954.4,"v":23256.6},{"t":955.1,"v":23254.9},{"t":955.9,"v":23253.2},{"t":956.6,"v":23251.5},{"t":957.3,"v":23248.0},{"t":958.0,"v":23249.7},{"t":958.7,"v":23244.6},{"t":959.4,"v":23239.4},{"t":960.2,"v":23237.7},{"t":960.9,"v":23244.6},{"t":961.6,"v":23242.8},{"t":962.3,"v":23239.4},{"t":963.0,"v":23241.1},{"t":963.7,"v":23241.8},{"t":964.5,"v":23241.1},{"t":965.2,"v":23244.6},{"t":965.9,"v":23241.1},{"t":966.6,"v":23239.4},{"t":967.3,"v":23237.0},{"t":968.0,"v":23235.9},{"t":969.1,"v":23235.9},{"t":969.8,"v":23237.7},{"t":970.6,"v":23241.8},{"t":971.3,"v":23249.7},{"t":972.0,"v":23249.7},{"t":973.1,"v":23248.0},{"t":974.1,"v":23246.3},{"t":974.9,"v":23247.3},{"t":975.6,"v":23247.3},{"t":976.3,"v":23248.0},{"t":977.0,"v":23248.7},{"t":977.7,"v":23253.2},{"t":978.4,"v":23255.6},{"t":979.5,"v":23256.6},{"t":980.2,"v":23254.2},{"t":981.0,"v":23253.2},{"t":982.0,"v":23251.5},{"t":982.7,"v":23248.0},{"t":983.5,"v":23242.8},{"t":984.2,"v":23239.4},{"t":984.9,"v":23237.7},{"t":985.6,"v":23241.1},{"t":986.3,"v":23242.8},{"t":987.0,"v":23246.3},{"t":987.8,"v":23248.0},{"t":988.5,"v":23241.1},{"t":989.0,"v":23235.9},{"t":989.6,"v":23254.9},{"t":990.3,"v":23261.8},{"t":991.0,"v":23272.1},{"t":991.7,"v":23285.9},{"t":992.4,"v":23280.8},{"t":992.8,"v":23258.3},{"t":993.5,"v":23229.0},{"t":994.2,"v":23223.9},{"t":995.3,"v":23217.0},{"t":996.0,"v":23227.3},{"t":996.7,"v":23244.6},{"t":997.4,"v":23261.8},{"t":998.2,"v":23268.7},{"t":998.9,"v":23279.0},{"t":999.6,"v":23298.0},{"t":1000.3,"v":23310.1},{"t":1000.7,"v":23306.6},{"t":1001.4,"v":23318.7},{"t":1002.1,"v":23334.2},{"t":1002.8,"v":23354.9},{"t":1003.5,"v":23372.1},{"t":1003.9,"v":23379.0},{"t":1004.6,"v":23373.8},{"t":1005.7,"v":23366.9},{"t":1006.8,"v":23365.2},{"t":1007.5,"v":23373.8},{"t":1008.2,"v":23363.5},{"t":1008.9,"v":23351.4},{"t":1009.6,"v":23332.5},{"t":1010.7,"v":23330.7},{"t":1011.4,"v":23344.5},{"t":1012.1,"v":23372.1},{"t":1012.9,"v":23379.0},{"t":1013.6,"v":23395.6},{"t":1014.3,"v":23390.0},{"t":1015.0,"v":23391.1},{"t":1015.7,"v":23379.0},{"t":1016.4,"v":23365.2},{"t":1017.2,"v":23354.9},{"t":1017.9,"v":23346.3},{"t":1018.6,"v":23353.1},{"t":1019.3,"v":23363.5},{"t":1020.0,"v":23373.8},{"t":1020.7,"v":23380.7},{"t":1021.5,"v":23375.6},{"t":1022.2,"v":23385.9},{"t":1022.9,"v":23387.6},{"t":1023.6,"v":23379.0},{"t":1024.3,"v":23358.3},{"t":1025.0,"v":23339.4},{"t":1025.8,"v":23327.3},{"t":1026.5,"v":23320.4},{"t":1027.2,"v":23315.2},{"t":1027.9,"v":23308.3},{"t":1028.6,"v":23299.7},{"t":1029.3,"v":23294.5},{"t":1030.1,"v":23298.0},{"t":1030.8,"v":23296.3},{"t":1031.5,"v":23297.0},{"t":1032.2,"v":23294.5},{"t":1032.9,"v":23298.0},{"t":1033.3,"v":23310.1},{"t":1034.0,"v":23313.5},{"t":1034.7,"v":23310.1},{"t":1035.4,"v":23304.9},{"t":1036.2,"v":23311.8},{"t":1036.9,"v":23317.0},{"t":1037.6,"v":23320.4},{"t":1038.3,"v":23322.1},{"t":1039.0,"v":23322.1},{"t":1039.7,"v":23323.2},{"t":1040.5,"v":23341.1},{"t":1041.0,"v":23375.6},{"t":1041.5,"v":23383.1},{"t":1041.9,"v":23370.4},{"t":1042.6,"v":23351.4},{"t":1043.3,"v":23341.1},{"t":1044.0,"v":23339.4},{"t":1044.8,"v":23339.4},{"t":1045.5,"v":23337.6},{"t":1046.2,"v":23332.5},{"t":1046.9,"v":23348.0},{"t":1047.6,"v":23360.0},{"t":1048.3,"v":23368.7},{"t":1049.1,"v":23363.5},{"t":1049.8,"v":23358.3},{"t":1050.5,"v":23358.3},{"t":1051.2,"v":23351.4},{"t":1051.9,"v":23344.5},{"t":1052.6,"v":23354.9},{"t":1053.4,"v":23360.0},{"t":1054.1,"v":23354.9},{"t":1054.8,"v":23348.0},{"t":1055.5,"v":23346.3},{"t":1056.2,"v":23348.0},{"t":1056.9,"v":23341.1},{"t":1057.7,"v":23327.3},{"t":1058.4,"v":23320.4},{"t":1059.1,"v":23315.2},{"t":1059.8,"v":23323.8},{"t":1060.5,"v":23330.7},{"t":1061.3,"v":23337.6},{"t":1062.0,"v":23334.2},{"t":1062.7,"v":23335.9},{"t":1063.4,"v":23344.5},{"t":1064.1,"v":23360.0},{"t":1064.8,"v":23363.5},{"t":1065.6,"v":23363.5},{"t":1066.3,"v":23372.1},{"t":1067.0,"v":23373.8},{"t":1067.7,"v":23379.0},{"t":1068.4,"v":23385.9},{"t":1069.1,"v":23404.9},{"t":1069.9,"v":23389.3},{"t":1070.6,"v":23375.6},{"t":1071.3,"v":23368.7},{"t":1072.0,"v":23363.5},{"t":1072.7,"v":23366.9},{"t":1073.4,"v":23372.1},{"t":1074.2,"v":23370.4},{"t":1074.9,"v":23366.9},{"t":1075.6,"v":23365.2},{"t":1076.3,"v":23366.9},{"t":1077.0,"v":23375.6},{"t":1077.7,"v":23372.8},{"t":1078.5,"v":23361.8},{"t":1079.2,"v":23349.7},{"t":1079.9,"v":23361.8},{"t":1080.6,"v":23354.9},{"t":1081.3,"v":23348.0},{"t":1082.0,"v":23353.1},{"t":1082.8,"v":23348.0},{"t":1083.5,"v":23344.5},{"t":1084.2,"v":23341.1},{"t":1084.9,"v":23342.8},{"t":1085.6,"v":23344.5},{"t":1086.3,"v":23339.4},{"t":1087.1,"v":23330.7},{"t":1087.8,"v":23325.6},{"t":1088.9,"v":23320.4},{"t":1089.9,"v":23323.8},{"t":1091.0,"v":23327.3},{"t":1092.1,"v":23334.2},{"t":1092.8,"v":23348.0},{"t":1093.5,"v":23349.7},{"t":1094.2,"v":23344.5},{"t":1094.9,"v":23348.0},{"t":1095.7,"v":23356.6},{"t":1096.4,"v":23349.7},{"t":1097.1,"v":23348.0},{"t":1097.8,"v":23344.5},{"t":1098.5,"v":23339.4},{"t":1099.3,"v":23337.6},{"t":1100.0,"v":23334.2},{"t":1100.7,"v":23344.5},
{"t":1101.8,"v":23379.0},{"t":1102.7,"v":23385.9},{"t":1103.8,"v":23388.7},{"t":1104.8,"v":23391.1},{"t":1105.9,"v":23393.5},{"t":1107.0,"v":23396.2},{"t":1107.7,"v":23404.9},{"t":1108.4,"v":23399.7},{"t":1109.1,"v":23398.0},{"t":1109.9,"v":23411.8},{"t":1110.6,"v":23453.1},{"t":1111.3,"v":23437.6},{"t":1112.0,"v":23442.8},{"t":1112.7,"v":23439.3},{"t":1113.4,"v":23446.2},{"t":1114.2,"v":23441.1},{"t":1114.9,"v":23430.7},{"t":1115.6,"v":23421.1},{"t":1116.3,"v":23429.0},{"t":1117.4,"v":23432.4},{"t":1118.5,"v":23435.9},{"t":1119.5,"v":23434.2},{"t":1120.3,"v":23437.6},{"t":1121.0,"v":23444.5},{"t":1121.7,"v":23453.1},{"t":1122.4,"v":23454.8},{"t":1123.1,"v":23444.5},{"t":1123.8,"v":23437.6},{"t":1124.6,"v":23430.7},{"t":1125.6,"v":23432.4},{"t":1126.7,"v":23435.9},{"t":1127.4,"v":23443.8},{"t":1128.1,"v":23443.8},{"t":1128.9,"v":23439.3},{"t":1129.6,"v":23429.0},{"t":1130.3,"v":23420.4},{"t":1131.0,"v":23415.2},{"t":1132.1,"v":23411.8},{"t":1133.2,"v":23407.3},{"t":1134.2,"v":23403.8},{"t":1135.0,"v":23410.0},{"t":1136.0,"v":23415.2},{"t":1137.1,"v":23417.6},{"t":1137.8,"v":23421.1},{"t":1138.5,"v":23428.0},{"t":1139.3,"v":23410.0},{"t":1140.0,"v":23415.2},{"t":1140.7,"v":23422.1},{"t":1141.4,"v":23437.6},{"t":1142.1,"v":23451.4},{"t":1142.8,"v":23454.8},{"t":1143.6,"v":23441.1},{"t":1144.3,"v":23432.4},{"t":1145.0,"v":23431.4},{"t":1145.7,"v":23437.6},{"t":1146.8,"v":23441.1},{"t":1147.9,"v":23442.8},{"t":1148.6,"v":23449.7},{"t":1149.3,"v":23444.5},{"t":1150.0,"v":23447.9},{"t":1150.7,"v":23458.3},{"t":1151.5,"v":23468.6},{"t":1152.2,"v":23479.0},{"t":1152.9,"v":23465.2},{"t":1153.6,"v":23472.1},{"t":1154.3,"v":23479.0},{"t":1155.4,"v":23480.7},{"t":1156.1,"v":23491.0},{"t":1156.8,"v":23497.9},{"t":1157.5,"v":23506.6},{"t":1158.3,"v":23520.3},{"t":1159.0,"v":23530.7},{"t":1159.7,"v":23541.0},{"t":1160.4,"v":23537.6},{"t":1161.1,"v":23547.9},{"t":1161.8,"v":23554.8},{"t":1162.6,"v":23555.5},{"t":1163.3,"v":23549.6},{"t":1164.0,"v":23541.0},{"t":1164.7,"v":23542.8},{"t":1165.4,"v":23541.0},{"t":1166.1,"v":23544.5},{"t":1166.9,"v":23546.2},{"t":1167.6,"v":23548.6},{"t":1168.3,"v":23537.6},{"t":1169.0,"v":23518.6},{"t":1169.7,"v":23522.1},{"t":1170.4,"v":23527.2},{"t":1171.2,"v":23532.4},{"t":1171.9,"v":23535.9},{"t":1172.6,"v":23539.3},{"t":1173.3,"v":23538.6},{"t":1174.0,"v":23523.8},{"t":1174.4,"v":23500.3},{"t":1175.1,"v":23516.9},{"t":1175.8,"v":23518.6},{"t":1176.5,"v":23522.1},{"t":1177.3,"v":23527.2},{"t":1178.0,"v":23515.2},{"t":1178.7,"v":23508.3},{"t":1179.4,"v":23509.3},{"t":1180.1,"v":23511.7},{"t":1180.8,"v":23515.2},{"t":1181.6,"v":23523.8},{"t":1182.3,"v":23534.1},{"t":1183.0,"v":23534.8},{"t":1183.7,"v":23530.7},{"t":1184.4,"v":23520.3},{"t":1185.1,"v":23511.7},{"t":1185.9,"v":23503.1},{"t":1186.6,"v":23499.7},{"t":1187.3,"v":23503.1},{"t":1188.0,"v":23497.9},{"t":1188.7,"v":23480.7},{"t":1189.1,"v":23463.5},{"t":1189.8,"v":23482.4},{"t":1190.5,"v":23487.6},{"t":1191.6,"v":23491.0},{"t":1192.7,"v":23496.2},{"t":1193.8,"v":23496.9},{"t":1194.5,"v":23494.5},{"t":1195.2,"v":23489.3},{"t":1195.9,"v":23487.6},{"t":1197.0,"v":23484.1},{"t":1198.1,"v":23483.1},{"t":1199.1,"v":23480.7},{"t":1200.2,"v":23480.7},{"t":1200.9,"v":23481.7},{"t":1201.6,"v":23477.2},{"t":1202.4,"v":23458.3},{"t":1203.1,"v":23435.9},{"t":1203.8,"v":23441.1},{"t":1204.5,"v":23451.4},{"t":1205.2,"v":23458.3},{"t":1205.9,"v":23465.2},{"t":1206.7,"v":23458.3},{"t":1207.4,"v":23444.5},{"t":1208.1,"v":23447.9},{"t":1208.8,"v":23446.2},{"t":1209.5,"v":23447.9},{"t":1210.2,"v":23451.4},{"t":1211.0,"v":23454.8},{"t":1211.7,"v":23463.5},{"t":1212.4,"v":23460.0},{"t":1213.1,"v":23451.4},{"t":1213.8,"v":23434.2},{"t":1214.9,"v":23432.4},{"t":1216.0,"v":23430.7},{"t":1216.7,"v":23431.4},{"t":1217.4,"v":23427.3},{"t":1218.5,"v":23425.5},{"t":1219.2,"v":23420.4},{"t":1219.9,"v":23423.8},{"t":1220.6,"v":23428.0},{"t":1221.4,"v":23432.4},{"t":1222.1,"v":23429.0},{"t":1222.8,"v":23427.3},{"t":1223.5,"v":23429.0},{"t":1224.2,"v":23434.2},{"t":1224.9,"v":23441.1},{"t":1225.7,"v":23444.5},{"t":1226.4,"v":23449.7},{"t":1227.1,"v":23456.6},{"t":1227.8,"v":23465.2},{"t":1228.5,"v":23471.0},{"t":1229.2,"v":23468.6},{"t":1230.3,"v":23465.9},{"t":1231.4,"v":23468.6},{"t":1232.5,"v":23472.1},{"t":1233.2,"v":23473.8},{"t":1233.9,"v":23476.2},{"t":1234.6,"v":23468.6},{"t":1235.3,"v":23460.0},{"t":1236.1,"v":23463.5},{"t":1236.8,"v":23466.9},{"t":1237.5,"v":23468.6},{"t":1238.2,"v":23466.9},{"t":1238.9,"v":23461.7},{"t":1240.0,"v":23461.0},{"t":1241.1,"v":23461.0},{"t":1241.8,"v":23463.5},{"t":1242.5,"v":23466.9},{"t":1243.2,"v":23460.0},{"t":1243.9,"v":23453.1},{"t":1244.7,"v":23454.8},{"t":1245.4,"v":23458.3},{"t":1246.1,"v":23458.3},{"t":1246.8,"v":23461.7},{"t":1247.5,"v":23456.6},{"t":1248.2,"v":23455.5},{"t":1249.0,"v":23455.5},{"t":1249.7,"v":23458.3},{"t":1250.4,"v":23468.6},{"t":1251.1,"v":23475.5},{"t":1252.2,"v":23478.3},{"t":1253.3,"v":23479.0},{"t":1254.0,"v":23480.7},{"t":1254.7,"v":23484.1},{"t":1255.4,"v":23489.3},{"t":1256.1,"v":23492.8},{"t":1256.9,"v":23496.2},{"t":1257.6,"v":23499.7},{"t":1258.3,"v":23506.6},{"t":1259.0,"v":23515.2},{"t":1259.7,"v":23518.6},{"t":1260.1,"v":23534.1},{"t":1260.4,"v":23551.4},{"t":1261.0,"v":23575.5},{"t":1261.5,"v":23597.9},{"t":1262.0,"v":23592.7},{"t":1262.6,"v":23577.2},{"t":1263.3,"v":23566.9},{"t":1264.0,"v":23560.0},{"t":1264.7,"v":23551.4},{"t":1265.4,"v":23527.2},{"t":1266.2,"v":23527.2},{"t":1266.9,"v":23537.6},{"t":1267.6,"v":23529.0},{"t":1268.3,"v":23525.5},{"t":1269.0,"v":23529.0},{"t":1269.8,"v":23534.1},{"t":1270.5,"v":23539.3},{"t":1271.2,"v":23547.9},{"t":1271.9,"v":23556.5},{"t":1272.6,"v":23556.5},{"t":1273.3,"v":23551.4},{"t":1274.1,"v":23558.3},{"t":1274.8,"v":23556.5},{"t":1275.5,"v":23553.1},{"t":1276.2,"v":23549.6},{"t":1276.9,"v":23558.3},{"t":1277.6,"v":23556.5},{"t":1278.4,"v":23560.0},{"t":1279.1,"v":23565.2},{"t":1279.8,"v":23570.3},{"t":1280.5,"v":23577.2},{"t":1281.2,"v":23578.9},{"t":1281.9,"v":23573.8},{"t":1282.7,"v":23572.1},{"t":1283.4,"v":23570.3},{"t":1284.1,"v":23561.7},{"t":1284.8,"v":23556.5},{"t":1285.5,"v":23553.1},{"t":1286.2,"v":23553.1},{"t":1287.0,"v":23558.3},{"t":1287.7,"v":23560.0},{"t":1288.4,"v":23554.8},{"t":1289.1,"v":23563.4},{"t":1289.8,"v":23563.4},{"t":1290.5,"v":23560.0},{"t":1291.3,"v":23554.8},{"t":1292.0,"v":23549.6},{"t":1292.7,"v":23547.9},{"t":1293.4,"v":23547.2},{"t":1294.1,"v":23549.6},{"t":1294.8,"v":23553.1},{"t":1295.6,"v":23556.5},{"t":1296.3,"v":23561.7},{"t":1297.0,"v":23566.9},{"t":1297.7,"v":23572.1},{"t":1298.4,"v":23568.6},{"t":1299.1,"v":23566.9},{"t":1299.9,"v":23565.2},{"t":1300.6,"v":23561.7},{"t":1301.3,"v":23565.2},{"t":1302.0,"v":23566.9},{"t":1302.7,"v":23565.2},{"t":1303.5,"v":23563.4},{"t":1304.2,"v":23561.7},{"t":1304.5,"v":23549.6},{"t":1305.2,"v":23558.3},{"t":1306.0,"v":23563.4},{"t":1307.0,"v":23565.2},{"t":1308.1,"v":23566.9},{"t":1309.2,"v":23570.3},{"t":1310.3,"v":23572.1},{"t":1311.0,"v":23573.8},{"t":1311.7,"v":23573.8},{"t":1312.4,"v":23577.2},{"t":1313.1,"v":23573.8},{"t":1313.8,"v":23572.7},{"t":1314.9,"v":23574.8},{"t":1315.6,"v":23577.2},{"t":1316.4,"v":23582.4},{"t":1317.1,"v":23585.8},{"t":1317.8,"v":23584.1},{"t":1318.5,"v":23582.4},{"t":1319.2,"v":23575.5},{"t":1320.0,"v":23420.4},{"t":1320.5,"v":23366.9},{"t":1321.0,"v":23356.6},{"t":1321.7,"v":23354.9},{"t":1322.4,"v":23353.1},{"t":1323.2,"v":23360.0},{"t":1323.9,"v":23348.0},{"t":1324.2,"v":23334.2},{"t":1324.9,"v":23317.0},{"t":1325.7,"v":23306.6},{"t":1326.4,"v":23301.4},{"t":1327.1,"v":23294.5},{"t":1327.8,"v":23291.1},{"t":1328.5,"v":23294.5},{"t":1329.3,"v":23294.5},{"t":1330.0,"v":23296.3},{"t":1330.7,"v":23299.7},{"t":1331.4,"v":23291.1},{"t":1332.1,"v":23287.7},{"t":1332.8,"v":23285.9},{"t":1333.6,"v":23287.7},{"t":1334.3,"v":23279.0},{"t":1335.0,"v":23272.1},{"t":1335.7,"v":23268.7},{"t":1336.4,"v":23277.3},{"t":1337.2,"v":23282.5},{"t":1337.9,"v":23275.6},{"t":1338.6,"v":23260.1},{"t":1339.3,"v":23261.8},{"t":1340.0,"v":23275.6},{"t":1340.7,"v":23289.4},{"t":1341.5,"v":23291.1},{"t":1342.2,"v":23285.9},{"t":1342.9,"v":23267.0},{"t":1343.6,"v":23256.6},{"t":1344.3,"v":23251.5},{"t":1345.0,"v":23249.7},{"t":1345.8,"v":23248.7},{"t":1346.8,"v":23246.3},{"t":1347.6,"v":23244.6},{"t":1348.3,"v":23243.9},{"t":1349.0,"v":23246.3},{"t":1349.7,"v":23242.8},{"t":1350.4,"v":23249.7},{"t":1351.1,"v":23251.5},{"t":1351.9,"v":23242.8},{"t":1352.6,"v":23232.5},{"t":1353.3,"v":23227.3},{"t":1354.0,"v":23232.5},{"t":1354.7,"v":23235.9},{"t":1355.4,"v":23239.4},{"t":1356.2,"v":23244.6},{"t":1356.9,"v":23245.2},{"t":1357.6,"v":23242.8},{"t":1358.3,"v":23237.7},{"t":1359.0,"v":23229.0},{"t":1359.7,"v":23220.4},{"t":1360.5,"v":23210.1},{"t":1361.2,"v":23204.9},{"t":1361.9,"v":23203.2},{"t":1362.6,"v":23206.6},{"t":1363.3,"v":23217.0},{"t":1364.0,"v":23220.4},{"t":1364.8,"v":23215.3},{"t":1365.5,"v":23208.4},{"t":1366.2,"v":23208.4},{"t":1366.9,"v":23211.8},{"t":1367.6,"v":23208.4},{"t":1368.3,"v":23203.2},{"t":1369.1,"v":23201.5},{"t":1369.8,"v":23210.1},{"t":1370.5,"v":23217.0},{"t":1371.2,"v":23220.4},{"t":1371.9,"v":23225.6},{"t":1372.6,"v":23230.8},{"t":1373.4,"v":23232.5},{"t":1374.1,"v":23230.8},{"t":1374.8,"v":23225.6},{"t":1375.5,"v":23222.2},{"t":1376.2,"v":23220.4},
{"t":1377.8,"v":23218.7},{"t":1378.9,"v":23213.5},{"t":1379.6,"v":23203.2},{"t":1380.3,"v":23204.9},{"t":1381.4,"v":23206.6},{"t":1382.4,"v":23207.3},{"t":1383.2,"v":23210.1},{"t":1383.9,"v":23204.9},{"t":1384.6,"v":23192.8},{"t":1385.3,"v":23182.5},{"t":1386.0,"v":23172.2},{"t":1386.7,"v":23168.7},{"t":1387.5,"v":23170.4},{"t":1388.2,"v":23166.0},{"t":1388.9,"v":23165.3},{"t":1389.6,"v":23175.6},{"t":1390.3,"v":23184.2},{"t":1391.0,"v":23191.1},{"t":1392.1,"v":23195.6},{"t":1393.2,"v":23199.7},{"t":1394.3,"v":23203.2},{"t":1395.0,"v":23202.5},{"t":1395.7,"v":23208.4},{"t":1396.4,"v":23210.1},{"t":1397.1,"v":23206.6},{"t":1397.9,"v":23204.9},{"t":1398.6,"v":23208.4},{"t":1399.3,"v":23210.1},{"t":1400.0,"v":23209.4},{"t":1400.7,"v":23211.8},{"t":1401.4,"v":23208.4},{"t":1402.2,"v":23204.9},{"t":1402.9,"v":23203.2},{"t":1403.6,"v":23198.0},{"t":1404.3,"v":23192.8},{"t":1405.4,"v":23191.1},{"t":1406.5,"v":23191.1},{"t":1407.2,"v":23201.5},{"t":1407.9,"v":23207.3},{"t":1409.0,"v":23209.4},{"t":1409.7,"v":23217.0},{"t":1410.4,"v":23223.9},{"t":1411.1,"v":23230.8},{"t":1411.8,"v":23235.9},{"t":1412.6,"v":23241.1},{"t":1413.3,"v":23239.4},{"t":1414.0,"v":23242.8},{"t":1414.7,"v":23248.0},{"t":1415.4,"v":23253.2},{"t":1416.1,"v":23258.3},{"t":1416.9,"v":23263.5},{"t":1417.6,"v":23265.2},{"t":1418.3,"v":23254.9},{"t":1419.0,"v":23248.0},{"t":1419.7,"v":23249.7},{"t":1420.4,"v":23248.7},{"t":1421.2,"v":23246.3},{"t":1421.9,"v":23248.0},{"t":1422.6,"v":23242.8},{"t":1423.3,"v":23237.7},{"t":1424.0,"v":23234.2},{"t":1424.7,"v":23227.3},{"t":1425.5,"v":23229.0},{"t":1426.2,"v":23229.0},{"t":1426.9,"v":23223.9},{"t":1427.6,"v":23217.0},{"t":1428.3,"v":23211.8},{"t":1429.0,"v":23204.9},{"t":1429.8,"v":23199.7},{"t":1430.5,"v":23195.6},{"t":1431.2,"v":23193.5},{"t":1431.9,"v":23194.6},{"t":1432.6,"v":23192.8},{"t":1433.3,"v":23189.4},{"t":1434.1,"v":23186.0},{"t":1434.8,"v":23184.2},{"t":1435.5,"v":23192.8},{"t":1436.2,"v":23201.5},{"t":1436.9,"v":23210.1},{"t":1437.6,"v":23211.8},{"t":1438.4,"v":23217.0},{"t":1439.1,"v":23219.7},{"t":1439.8,"v":23221.1},{"t":1440.5,"v":23224.6},{"t":1441.2,"v":23230.8},{"t":1441.9,"v":23232.5},{"t":1442.7,"v":23232.5},{"t":1443.4,"v":23230.8},{"t":1444.1,"v":23231.5},{"t":1444.8,"v":23233.5},{"t":1445.5,"v":23237.0},{"t":1446.6,"v":23237.7},{"t":1447.3,"v":23235.9},{"t":1448.0,"v":23234.2},{"t":1448.8,"v":23230.1},{"t":1449.5,"v":23229.0},{"t":1450.2,"v":23232.5},{"t":1450.9,"v":23234.2},{"t":1451.6,"v":23237.0},{"t":1452.3,"v":23239.4},{"t":1453.4,"v":23241.8},{"t":1454.5,"v":23242.8},{"t":1455.6,"v":23244.6},{"t":1456.6,"v":23246.3},{"t":1457.4,"v":23244.6},{"t":1458.1,"v":23241.8},{"t":1458.8,"v":23240.4},{"t":1459.5,"v":23238.4},{"t":1460.6,"v":23234.9},{"t":1461.7,"v":23231.5},{"t":1462.7,"v":23230.1},{"t":1463.8,"v":23229.0},{"t":1464.9,"v":23227.3},{"t":1466.0,"v":23225.6},{"t":1467.0,"v":23223.9},{"t":1468.1,"v":23224.6},{"t":1469.2,"v":23224.6},{"t":1469.9,"v":23218.7},{"t":1470.6,"v":23220.4},{"t":1471.3,"v":23223.9},{"t":1472.1,"v":23224.6},{"t":1473.1,"v":23224.6},{"t":1474.2,"v":23223.2},{"t":1474.9,"v":23218.7},{"t":1475.6,"v":23213.5},{"t":1476.4,"v":23210.1},{"t":1477.1,"v":23218.7},{"t":1477.8,"v":23229.0},{"t":1478.5,"v":23237.7},{"t":1479.2,"v":23244.6},{"t":1479.6,"v":23241.1},{"t":1480.3,"v":23223.9},{"t":1481.0,"v":23227.3},{"t":1481.7,"v":23237.7},{"t":1482.5,"v":23241.8},{"t":1483.2,"v":23243.9},{"t":1483.9,"v":23239.4},{"t":1484.6,"v":23232.5},{"t":1485.3,"v":23227.3},{"t":1486.0,"v":23220.4},{"t":1486.8,"v":23215.3},{"t":1487.5,"v":23211.8},{"t":1488.2,"v":23210.1},{"t":1488.9,"v":23207.3},{"t":1489.6,"v":23208.4},{"t":1490.3,"v":23211.8},{"t":1491.1,"v":23213.5},{"t":1491.8,"v":23215.3},{"t":1492.5,"v":23217.7},{"t":1493.2,"v":23214.2},{"t":1493.9,"v":23212.8},{"t":1494.6,"v":23210.8},{"t":1495.4,"v":23210.1},{"t":1496.1,"v":23211.8},{"t":1496.8,"v":23212.8},{"t":1497.5,"v":23210.1},{"t":1498.2,"v":23211.8},{"t":1498.9,"v":23213.5},{"t":1499.7,"v":23216.3},{"t":1500.4,"v":23218.7},{"t":1501.1,"v":23225.6},{"t":1501.8,"v":23227.3},{"t":1502.5,"v":23225.6},{"t":1503.2,"v":23223.9},{"t":1504.0,"v":23225.6},{"t":1504.7,"v":23222.2},{"t":1505.4,"v":23223.9},{"t":1506.1,"v":23227.3},{"t":1506.8,"v":23229.0},{"t":1507.5,"v":23231.5},{"t":1508.3,"v":23235.9},{"t":1509.0,"v":23237.7},{"t":1509.7,"v":23239.4},{"t":1510.4,"v":23237.7},{"t":1511.1,"v":23239.4},{"t":1511.9,"v":23241.8},{"t":1512.6,"v":23244.6},{"t":1513.3,"v":23248.0},{"t":1514.0,"v":23251.5},{"t":1514.7,"v":23255.6},{"t":1515.4,"v":23256.6},{"t":1515.8,"v":23253.2},{"t":1516.5,"v":23248.0},{"t":1517.2,"v":23241.1},{"t":1517.9,"v":23235.9},{"t":1518.7,"v":23237.7},{"t":1519.4,"v":23241.8},{"t":1520.1,"v":23241.1},{"t":1521.2,"v":23241.1},{"t":1522.2,"v":23239.4},{"t":1523.3,"v":23237.7},{"t":1524.0,"v":23232.5},{"t":1524.8,"v":23227.3},{"t":1525.5,"v":23220.4},{"t":1526.2,"v":23217.0},{"t":1526.9,"v":23216.3},{"t":1527.6,"v":23218.7},{"t":1528.3,"v":23217.0},{"t":1529.1,"v":23215.3},{"t":1530.1,"v":23215.3},{"t":1531.2,"v":23213.5},{"t":1531.9,"v":23211.8},{"t":1532.6,"v":23212.8},{"t":1533.4,"v":23210.1},{"t":1534.1,"v":23208.4},{"t":1534.8,"v":23213.5},{"t":1535.5,"v":23211.8},{"t":1536.2,"v":23210.1},{"t":1536.9,"v":23211.8},{"t":1537.7,"v":23213.5},{"t":1538.4,"v":23215.3},{"t":1539.1,"v":23211.8},{"t":1539.8,"v":23204.9},{"t":1540.5,"v":23210.1},{"t":1541.2,"v":23215.3},{"t":1542.0,"v":23210.1},{"t":1542.7,"v":23211.8},{"t":1543.4,"v":23210.8},{"t":1544.5,"v":23211.1},{"t":1545.6,"v":23210.8},{"t":1546.6,"v":23211.8},{"t":1547.3,"v":23218.7},{"t":1548.1,"v":23220.4},{"t":1548.8,"v":23218.7},{"t":1549.9,"v":23219.7},{"t":1550.9,"v":23219.7},{"t":1552.0,"v":23217.7},{"t":1552.7,"v":23217.0},{"t":1553.4,"v":23211.8},{"t":1554.2,"v":23208.4},{"t":1554.9,"v":23203.2},{"t":1555.6,"v":23204.9},{"t":1556.3,"v":23201.5},{"t":1557.0,"v":23201.5},{"t":1557.7,"v":23210.1},{"t":1558.5,"v":23213.5},{"t":1559.2,"v":23218.7},{"t":1559.9,"v":23227.3},{"t":1560.6,"v":23230.8},{"t":1561.3,"v":23231.5},{"t":1562.0,"v":23234.2},{"t":1563.1,"v":23235.9},{"t":1564.2,"v":23238.4},{"t":1564.9,"v":23237.7},{"t":1565.6,"v":23235.9},{"t":1566.7,"v":23237.0},{"t":1567.8,"v":23235.9},{"t":1568.5,"v":23234.2},{"t":1569.2,"v":23234.9},{"t":1569.9,"v":23232.5},{"t":1570.6,"v":23229.0},{"t":1571.7,"v":23227.3},{"t":1572.8,"v":23223.9},{"t":1573.9,"v":23222.2},{"t":1574.6,"v":23227.3},{"t":1575.3,"v":23232.5},{"t":1576.0,"v":23237.7},{"t":1576.7,"v":23242.8},{"t":1577.5,"v":23235.9},{"t":1578.2,"v":23230.8},{"t":1578.9,"v":23229.0},{"t":1579.6,"v":23232.5},{"t":1580.3,"v":23230.1},{"t":1581.0,"v":23235.9},{"t":1581.8,"v":23237.7},{"t":1582.5,"v":23235.9},{"t":1583.2,"v":23232.5},{"t":1583.9,"v":23230.8},{"t":1584.6,"v":23234.2},{"t":1585.3,"v":23230.8},{"t":1586.1,"v":23229.0},{"t":1586.8,"v":23234.9},{"t":1587.5,"v":23238.4},{"t":1588.2,"v":23240.4},{"t":1588.9,"v":23229.0},{"t":1589.3,"v":23196.3},{"t":1589.7,"v":23184.2},{"t":1590.0,"v":23199.7},{"t":1590.7,"v":23213.5},{"t":1591.4,"v":23215.3},{"t":1592.2,"v":23217.0},{"t":1592.9,"v":23222.2},{"t":1593.6,"v":23227.3},{"t":1594.3,"v":23230.8},{"t":1595.0,"v":23227.3},{"t":1595.7,"v":23213.5},{"t":1596.5,"v":23201.5},{"t":1597.2,"v":23192.8},{"t":1597.9,"v":23186.6},{"t":1598.6,"v":23186.6},{"t":1599.3,"v":23194.6},{"t":1600.0,"v":23199.7},{"t":1600.8,"v":23206.6},{"t":1601.5,"v":23208.4},{"t":1602.2,"v":23198.0},{"t":1602.9,"v":23196.3},{"t":1603.6,"v":23197.0},{"t":1604.3,"v":23195.6},{"t":1605.1,"v":23191.1},{"t":1605.8,"v":23187.7},{"t":1606.5,"v":23191.1},{"t":1607.2,"v":23189.4},{"t":1607.9,"v":23185.3},{"t":1608.6,"v":23186.6},{"t":1609.4,"v":23192.8},{"t":1610.1,"v":23198.0},{"t":1610.8,"v":23197.0},{"t":1611.5,"v":23191.1},{"t":1612.2,"v":23187.7},{"t":1613.0,"v":23186.6},{"t":1613.7,"v":23190.1},{"t":1614.4,"v":23194.6},{"t":1615.1,"v":23201.5},{"t":1615.8,"v":23202.5},{"t":1616.5,"v":23199.7},{"t":1617.3,"v":23208.4},{"t":1618.0,"v":23215.3},{"t":1618.7,"v":23220.4},{"t":1619.4,"v":23222.2},{"t":1620.1,"v":23227.3},{"t":1620.8,"v":23229.0},{"t":1621.6,"v":23230.8},{"t":1622.3,"v":23230.8},{"t":1623.0,"v":23232.5},{"t":1623.7,"v":23231.5},{"t":1624.4,"v":23235.9},{"t":1625.1,"v":23234.9},{"t":1625.9,"v":23230.8},{"t":1626.6,"v":23232.5},{"t":1627.3,"v":23234.2},{"t":1628.0,"v":23235.9},{"t":1628.7,"v":23237.0},{"t":1629.4,"v":23238.4},{"t":1630.2,"v":23241.1},{"t":1630.9,"v":23239.4},{"t":1631.6,"v":23237.0},{"t":1632.3,"v":23237.7},{"t":1633.0,"v":23242.8},{"t":1633.7,"v":23249.7},{"t":1634.5,"v":23251.5},{"t":1635.2,"v":23246.3},{"t":1635.9,"v":23248.0},{"t":1636.6,"v":23248.0},{"t":1637.3,"v":23248.7},{"t":1638.0,"v":23252.1},{"t":1638.8,"v":23248.0},{"t":1639.5,"v":23246.3},{"t":1640.2,"v":23245.2},{"t":1640.9,"v":23246.3},{"t":1641.6,"v":23244.6},{"t":1642.3,"v":23243.9},{"t":1643.1,"v":23241.8},{"t":1643.8,"v":23240.4},{"t":1644.5,"v":23238.4},{"t":1645.2,"v":23237.0},{"t":1645.9,"v":23239.4},{"t":1646.6,"v":23241.1},{"t":1647.4,"v":23248.0},{"t":1648.1,"v":23256.6},{"t":1648.4,"v":23272.1},{"t":1648.8,"v":23282.5},{"t":1649.2,"v":23288.7}
]},
"layer":[
{"data":{"values":[{"t":330},{"t":660},{"t":990},{"t":1320}]},
 "mark":{"type":"rule","color":"#e6e6f2","strokeWidth":3.5},
 "encoding":{"x":{"field":"t","type":"quantitative","scale":{"domain":[0,1650]},"axis":null}}},
{"data":{"values":[{"t":1380},{"t":1440},{"t":1500},{"t":1560},{"t":1620}]},
 "mark":{"type":"rule","color":"#e8e8f2","strokeWidth":1.6},
 "encoding":{"x":{"field":"t","type":"quantitative","scale":{"domain":[0,1650]},"axis":null}}},
{"data":{"values":[{"t":1350},{"t":1410},{"t":1470},{"t":1530},{"t":1590}]},
 "mark":{"type":"rule","color":"#d8d8e4","strokeWidth":1,"strokeDash":[1,5]},
 "encoding":{"x":{"field":"t","type":"quantitative","scale":{"domain":[0,1650]},"axis":null}}},
{"data":{"values":[{"base":23601.26}]},
 "mark":{"type":"rule","color":"#e4e4f0","strokeWidth":3},
 "encoding":{"y":{"field":"base","type":"quantitative","scale":{"domain":[23129.07,24103.28],"nice":false,"zero":false},
   "axis":{"orient":"right","values":[24073.29,24044.33,24015.38,23985.39,23956.44,23926.46,23897.50,23867.52,23838.57,23808.58,23779.63,23749.64,23720.69,23690.70,23661.75,23631.76,23601.26,23572.82,23542.84,23513.89,23483.90,23454.95,23424.96,23396.01,23366.02,23337.07,23307.08,23278.13,23248.15,23219.19,23189.21,23160.26],
   "labelExpr":"format((datum.value/23601.26-1)*100,'.2f')+'%'",
   "labelColor":{"expr":"datum.value > 23601.5 ? '#e8282d' : (datum.value < 23601 ? '#078a1e' : '#1c2242')"},
   "ticks":false,"domain":false,"grid":false,"title":null,"labelPadding":2,"labelFontSize":24.5,"labelFont":"Liberation Sans","labelAlign":"left","labelOverlap":false,"labelFlush":false,"labelBound":false}}}},
{"data":{"name":"idx"},
 "mark":{"type":"line","color":"#23243f","strokeWidth":1.4},
 "encoding":{
  "x":{"field":"t","type":"quantitative","scale":{"domain":[0,1650]},"axis":null},
  "y":{"field":"v","type":"quantitative","scale":{"domain":[23129.07,24103.28],"nice":false,"zero":false},
   "axis":{"orient":"left","values":[24073.29,24044.33,24015.38,23985.39,23956.44,23926.46,23897.50,23867.52,23838.57,23808.58,23779.63,23749.64,23720.69,23690.70,23661.75,23631.76,23601.26,23572.82,23542.84,23513.89,23483.90,23454.95,23424.96,23396.01,23366.02,23337.07,23307.08,23278.13,23248.15,23219.19,23189.21,23160.26],
   "format":".2f",
   "labelColor":{"expr":"datum.value > 23601.5 ? '#e8282d' : (datum.value < 23601 ? '#078a1e' : '#1c2242')"},
   "ticks":false,"domain":false,"grid":true,"gridColor":"#e8e8f2","gridWidth":1.5,"title":null,"labelPadding":3,"labelFontSize":24.5,"labelFont":"Liberation Sans","labelOverlap":false,"labelFlush":false,"labelBound":false}}}},
{"data":{"values":[{"name":"香港恒生指数","code":"ZSDPFSLW: 23463.18"}]},
 "mark":{"type":"text","align":"left","baseline":"top","dx":2,"dy":4,"fontSize":25,"font":"Liberation Sans, Noto Sans CJK SC","color":"#2a2c40"},
 "encoding":{"text":{"field":"name"},
  "x":{"datum":0,"type":"quantitative","scale":{"domain":[0,1650]},"axis":null},
  "y":{"datum":24103.28,"type":"quantitative","axis":null}}},
{"data":{"values":[{"name":"香港恒生指数","code":"ZSDPFSLW: 23463.18"}]},
 "mark":{"type":"text","align":"left","baseline":"top","dx":164,"dy":4,"fontSize":25,"font":"Liberation Sans, Noto Sans CJK SC","color":"#1f2340"},
 "encoding":{"text":{"field":"code"},
  "x":{"datum":0,"type":"quantitative","scale":{"domain":[0,1650]},"axis":null},
  "y":{"datum":24103.28,"type":"quantitative","axis":null}}}
],
"resolve":{"axis":{"y":"independent"}}
}
